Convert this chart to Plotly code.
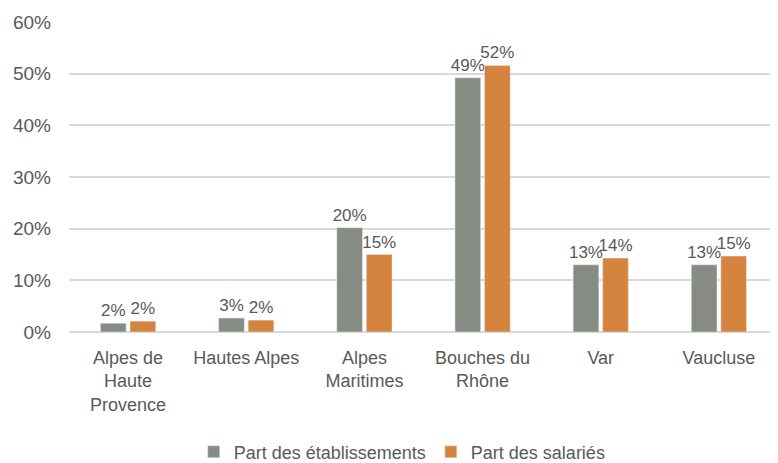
import plotly.graph_objects as go

# Data
categories = ["Alpes de<br>Haute<br>Provence", "Hautes Alpes", "Alpes<br>Maritimes",
              "Bouches du<br>Rhône", "Var", "Vaucluse"]
part_etablissements = [1.7, 2.7, 20.2, 49.2, 13.0, 13.0]
part_salaries = [2.1, 2.3, 15.0, 51.6, 14.3, 14.7]
y_ticks = [0, 10, 20, 30, 40, 50, 60]

GREY = "#868C83"
ORANGE = "#D4843F"
TEXT = "#595959"
FONT = "Liberation Sans Narrow, Liberation Sans, Arial, sans-serif"
LABEL_FONT = "Liberation Sans, Arial, sans-serif"

fig = go.Figure()

for name, vals, col in [("Part des établissements", part_etablissements, GREY),
                        ("Part des salariés", part_salaries, ORANGE)]:
    fig.add_trace(go.Bar(
        x=categories, y=vals, name=name,
        marker_color=col,
        text=[f"{round(v)}%" for v in vals],
        textposition="outside", cliponaxis=False, constraintext="none",
        textfont=dict(color=TEXT, size=17, family=LABEL_FONT),
    ))

# page body adds an 8px offset, so the figure is 8px smaller on each side
fig.update_layout(
    width=770, height=455,
    margin=dict(l=61, r=0, t=14, b=131, autoexpand=False),
    plot_bgcolor="white", paper_bgcolor="white",
    barmode="group", bargap=0.5, bargroupgap=0.13,
    font=dict(family=FONT, color=TEXT, size=16),
    legend=dict(orientation="h", x=0.47, xanchor="center",
                yref="container", y=0.024, yanchor="middle",
                font=dict(size=18, family=FONT), itemwidth=30),
    showlegend=True,
)
fig.update_yaxes(
    range=[0, 60], tickvals=y_ticks, ticktext=[f"{v}%" for v in y_ticks],
    showgrid=True, gridcolor="#D9D9D9", gridwidth=2,
    zeroline=True, zerolinecolor="#D9D9D9", zerolinewidth=2,
    tickfont=dict(size=19, family=LABEL_FONT, color=TEXT),
    ticklabelstandoff=17, automargin=False,
)
fig.update_xaxes(
    tickfont=dict(size=18, family=FONT, color=TEXT),
    showline=False, ticks="", automargin=False, ticklabelstandoff=13,
)

fig.write_html("out.html")
